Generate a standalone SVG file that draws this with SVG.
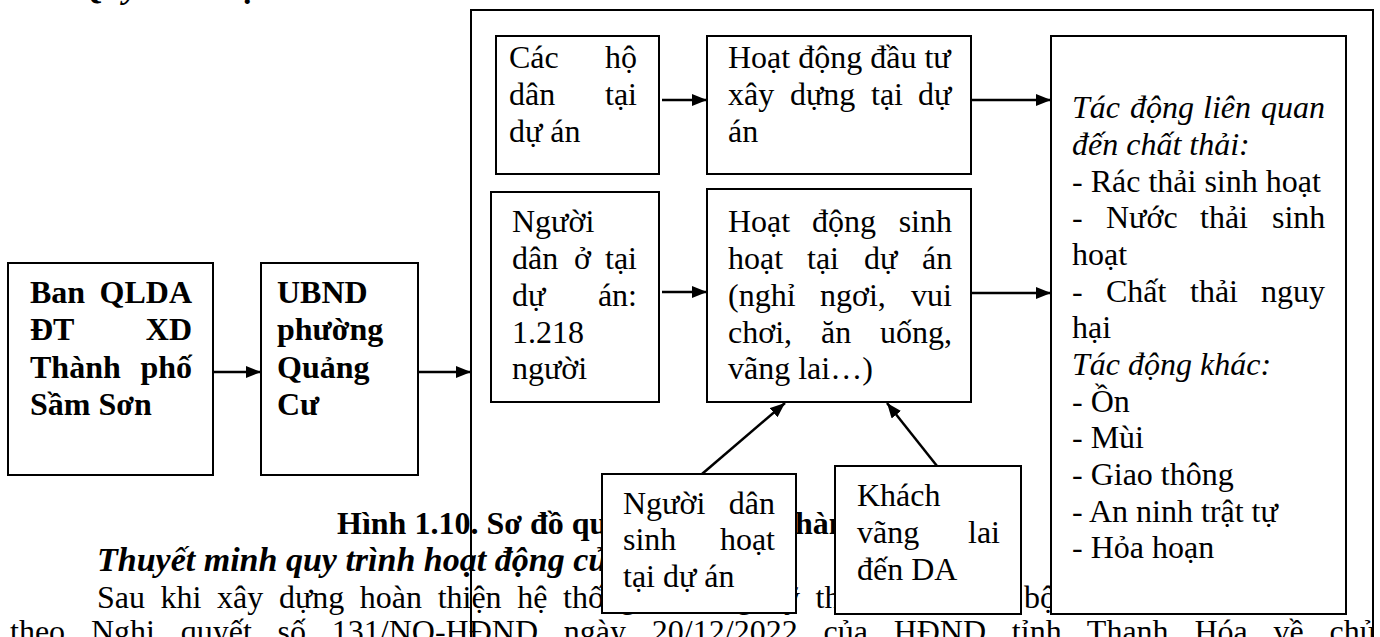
<svg xmlns="http://www.w3.org/2000/svg" width="1380" height="637" viewBox="0 0 1380 637">
<style>
text{font-family:"Liberation Serif","Times New Roman",serif;font-size:32px;fill:#000}
.b{font-weight:bold}
.i{font-style:italic}
.bi{font-weight:bold;font-style:italic}
.box{fill:#fff;stroke:#000;stroke-width:2}
.frame{fill:none;stroke:#000;stroke-width:2}
.con{stroke:#000;stroke-width:2.5;fill:none;marker-end:url(#ah)}
.e{text-anchor:end}
</style>
<defs>
<marker id="ah" markerUnits="userSpaceOnUse" markerWidth="15" markerHeight="12" refX="15" refY="6" orient="auto">
<path d="M0,0 L15,6 L0,12 z" fill="#000"/>
</marker>
</defs>
<rect width="1380" height="637" fill="#fff"/>
<g id="page-text">
<text class="bi" x="80" y="-2" style="font-size:34px">Quy trình vận hành</text>
<text class="b" x="337" y="534">Hình 1.10. Sơ đồ quy trình vận <tspan x="795">hành</tspan></text>
<text class="bi" x="97" y="571" style="font-size:34px">Thuyết minh quy trình hoạt động của dự án</text>
<text x="97" y="608" word-spacing="7.6">Sau khi xây dựng hoàn thiện hệ thống hạ tầng kỹ thuật và toàn<tspan x="1024">bộ</tspan></text>
<text x="10" y="642" word-spacing="17.8">theo Nghị quyết số 131/NQ-HĐND ngày 20/12/2022 của HĐND tỉnh Thanh Hóa về chủ</text>
</g>
<rect id="frame" class="frame" x="471" y="10" width="902" height="640"/>
<g id="n-ban">
<rect class="box" x="8" y="263" width="205" height="212"/>
<text class="b" x="30" y="303">Ban</text><text class="b e" x="192" y="303">QLDA</text>
<text class="b" x="30" y="340">ĐT</text><text class="b e" x="192" y="340">XD</text>
<text class="b" x="30" y="378">Thành</text><text class="b e" x="192" y="378">phố</text>
<text class="b" x="30" y="415">Sầm Sơn</text>
</g>
<g id="n-ubnd">
<rect class="box" x="261" y="263" width="157" height="212"/>
<text class="b" x="277" y="303">UBND</text>
<text class="b" x="277" y="340">phường</text>
<text class="b" x="277" y="378">Quảng</text>
<text class="b" x="277" y="415">Cư</text>
</g>
<g id="n-cacho">
<rect class="box" x="496" y="36" width="163" height="138"/>
<text x="509" y="68">Các</text><text class="e" x="637" y="68">hộ</text>
<text x="509" y="105">dân</text><text class="e" x="637" y="105">tại</text>
<text x="509" y="142">dự án</text>
</g>
<g id="n-hddt">
<rect class="box" x="707" y="36" width="264" height="138"/>
<text x="728" y="68">Hoạt động đầu tư</text>
<text y="105"><tspan x="728">xây</tspan><tspan x="790">dựng</tspan><tspan x="871">tại</tspan><tspan x="918">dự</tspan></text>
<text x="728" y="142">án</text>
</g>
<g id="n-nguoidan">
<rect class="box" x="491" y="192" width="168" height="210"/>
<text x="512" y="232">Người</text>
<text y="269"><tspan x="512">dân</tspan><tspan x="574">ở</tspan><tspan x="605">tại</tspan></text>
<text x="512" y="306">dự</text><text class="e" x="637" y="306">án:</text>
<text x="512" y="343">1.218</text>
<text x="512" y="379">người</text>
</g>
<g id="n-hdsh">
<rect class="box" x="707" y="189" width="264" height="213"/>
<text y="232"><tspan x="728">Hoạt</tspan><tspan x="812">động</tspan><tspan x="952" style="text-anchor:end">sinh</tspan></text>
<text y="269"><tspan x="728">hoạt</tspan><tspan x="807">tại</tspan><tspan x="864">dự</tspan><tspan x="922">án</tspan></text>
<text y="306"><tspan x="728">(nghỉ</tspan><tspan x="820">ngơi,</tspan><tspan x="911">vui</tspan></text>
<text y="343"><tspan x="728">chơi,</tspan><tspan x="821">ăn</tspan><tspan x="880">uống,</tspan></text>
<text x="728" y="379">vãng lai…)</text>
</g>
<g id="n-tacdong">
<rect class="box" x="1051" y="36" width="295" height="578"/>
<text class="i" y="118"><tspan x="1072">Tác</tspan><tspan x="1130">động</tspan><tspan x="1203">liên</tspan><tspan x="1261">quan</tspan></text>
<text class="i" x="1072" y="155">đến chất thải:</text>
<text x="1072" y="192">- Rác thải sinh hoạt</text>
<text y="228"><tspan x="1072">-</tspan><tspan x="1106">Nước</tspan><tspan x="1200">thải</tspan><tspan x="1272">sinh</tspan></text>
<text x="1072" y="265">hoạt</text>
<text y="302"><tspan x="1072">-</tspan><tspan x="1106">Chất</tspan><tspan x="1190">thải</tspan><tspan x="1261">nguy</tspan></text>
<text x="1072" y="338">hại</text>
<text class="i" x="1072" y="375">Tác động khác:</text>
<text x="1072" y="412">- Ồn</text>
<text x="1072" y="448">- Mùi</text>
<text x="1072" y="485">- Giao thông</text>
<text x="1072" y="522">- An ninh trật tự</text>
<text x="1072" y="558">- Hỏa hoạn</text>
</g>
<g id="n-nguoidansh">
<rect class="box" x="602" y="474" width="194" height="139"/>
<text x="623" y="514">Người</text><text class="e" x="775" y="514">dân</text>
<text x="623" y="550">sinh</text><text class="e" x="775" y="550">hoạt</text>
<text x="623" y="587">tại dự án</text>
</g>
<g id="n-khach">
<rect class="box" x="835" y="466" width="186" height="148"/>
<text x="857" y="506">Khách</text>
<text x="857" y="543">vãng</text><text class="e" x="1000" y="543">lai</text>
<text x="857" y="580">đến DA</text>
</g>
<g id="connectors">
<line class="con" x1="213" y1="372" x2="261" y2="372"/>
<line class="con" x1="418" y1="372" x2="471" y2="372"/>
<line class="con" x1="662" y1="100" x2="707" y2="100"/>
<line class="con" x1="971" y1="100" x2="1051" y2="100"/>
<line class="con" x1="662" y1="292" x2="707" y2="292"/>
<line class="con" x1="971" y1="293" x2="1051" y2="293"/>
<line class="con" x1="702" y1="474" x2="785" y2="403"/>
<line class="con" x1="937" y1="466" x2="887" y2="403"/>
</g>
</svg>
